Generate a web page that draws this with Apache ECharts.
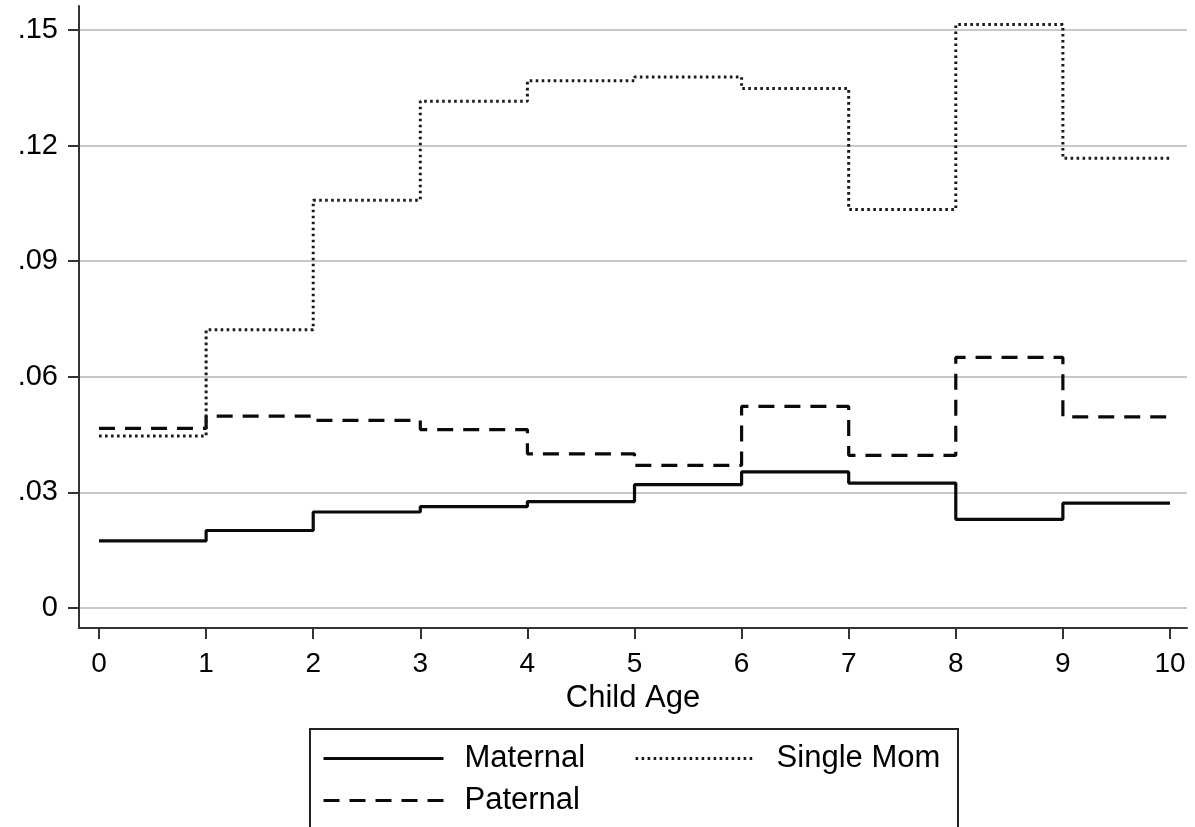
<!DOCTYPE html>
<html>
<head>
<meta charset="utf-8">
<script src="https://cdn.jsdelivr.net/npm/echarts@6/dist/echarts.min.js"></script>
<style>
html,body{margin:0;padding:0;background:#fff;}
#chart{width:1195px;height:827px;}
</style>
</head>
<body>
<div id="chart"></div>
<script>
// ---- data ----
var ageStarts = [0, 1, 2, 3, 4, 5, 6, 7, 8, 9];
var ageEnd = 10;
var maternal  = [0.0174, 0.0201, 0.0249, 0.0263, 0.0276, 0.0320, 0.0353, 0.0324, 0.0230, 0.0272];
var paternal  = [0.0466, 0.0498, 0.0487, 0.0463, 0.0400, 0.0370, 0.0523, 0.0396, 0.0650, 0.0496];
var singleMom = [0.0446, 0.0722, 0.1058, 0.1315, 0.1368, 0.1378, 0.1348, 0.1034, 0.1514, 0.1167];
var xTicks = [0, 1, 2, 3, 4, 5, 6, 7, 8, 9, 10];
var xTickLabels = ['0', '1', '2', '3', '4', '5', '6', '7', '8', '9', '10'];
var yTicks = [0, 0.03, 0.06, 0.09, 0.12, 0.15];
var yTickLabels = ['0', '.03', '.06', '.09', '.12', '.15'];
var seriesNames = ['Maternal', 'Paternal', 'Single Mom'];

function stepData(vals) {
  var d = ageStarts.map(function (a, i) { return [a, vals[i]]; });
  d.push([ageEnd, vals[vals.length - 1]]);
  return d;
}
function labelOf(ticks, labels) {
  return function (v) {
    for (var i = 0; i < ticks.length; i++) {
      if (Math.abs(ticks[i] - v) < 1e-9) return labels[i];
    }
    return '';
  };
}

var FONT = '"Liberation Sans", Arial, Helvetica, sans-serif';
var chart = echarts.init(document.getElementById('chart'), null, {renderer: 'canvas'});

var legendText = {fontFamily: FONT, fontSize: 31, color: '#000', padding: [0, 0, 0, 16]};
var legendCommon = {
  padding: 0, itemWidth: 120, itemHeight: 14, itemGap: 49,
  selectedMode: false, textStyle: legendText,
  itemStyle: {opacity: 0, borderWidth: 0},
  lineStyle: {width: 3}
};

chart.setOption({
  backgroundColor: '#ffffff',
  animation: false,
  grid: {left: 79, right: 8, top: 6, bottom: 199, containLabel: false, outerBoundsMode: 'none'},
  xAxis: {
    type: 'value',
    min: -0.187, max: 10.159,
    name: 'Child Age',
    nameLocation: 'middle',
    nameGap: 47,
    nameTextStyle: {fontFamily: FONT, fontSize: 31, color: '#000'},
    axisLine: {show: true, onZero: false, lineStyle: {color: '#333', width: 2}},
    axisTick: {show: true, length: 11, customValues: xTicks, lineStyle: {color: '#333', width: 2}},
    axisLabel: {show: true, customValues: xTicks, margin: 22, fontFamily: FONT, fontSize: 28, color: '#000',
      formatter: labelOf(xTicks, xTickLabels)},
    splitLine: {show: false}
  },
  yAxis: {
    type: 'value',
    min: -0.0052, max: 0.1562,
    axisLine: {show: true, onZero: false, lineStyle: {color: '#333', width: 2}},
    axisTick: {show: true, length: 11, customValues: yTicks, lineStyle: {color: '#333', width: 2}},
    axisLabel: {show: true, customValues: yTicks, margin: 21, fontFamily: FONT, fontSize: 29, color: '#000',
      formatter: labelOf(yTicks, yTickLabels)},
    splitLine: {show: true, lineStyle: {color: '#c8c8c8', width: 2}}
  },
  legend: [
    Object.assign({data: [seriesNames[0], seriesNames[2]], left: 322, top: 743}, legendCommon),
    Object.assign({data: [seriesNames[1]], left: 322, top: 785}, legendCommon)
  ],
  graphic: [{
    type: 'rect',
    shape: {x: 310, y: 729, width: 648, height: 130},
    style: {fill: 'none', stroke: '#222', lineWidth: 2},
    silent: true
  }],
  series: [
    {
      name: seriesNames[0], type: 'line', step: 'end', symbol: 'none',
      data: stepData(maternal),
      lineStyle: {color: '#0a0a0a', width: 3.2, type: 'solid'},
      itemStyle: {color: '#0a0a0a'}
    },
    {
      name: seriesNames[1], type: 'line', step: 'end', symbol: 'none',
      data: stepData(paternal),
      lineStyle: {color: '#0a0a0a', width: 3.2, type: [16, 10], cap: 'butt'},
      itemStyle: {color: '#0a0a0a'}
    },
    {
      name: seriesNames[2], type: 'line', step: 'end', symbol: 'none',
      data: stepData(singleMom),
      lineStyle: {color: '#1a1a1a', width: 3, type: [2.6, 3.4], cap: 'butt'},
      itemStyle: {color: '#1a1a1a'}
    }
  ]
});
</script>
</body>
</html>
